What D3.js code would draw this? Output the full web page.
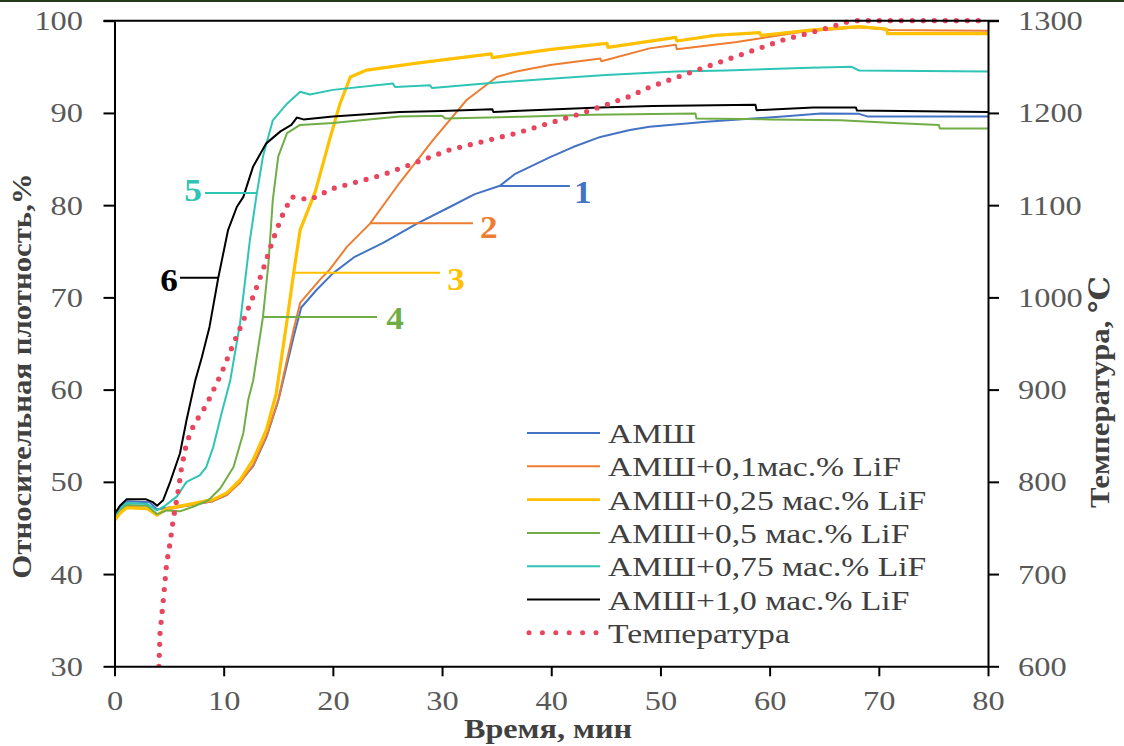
<!DOCTYPE html>
<html><head><meta charset="utf-8">
<script src="https://cdn.jsdelivr.net/npm/d3@7"></script>
<style>body{margin:0;background:#fff;} svg{display:block;}</style>
</head><body><svg id="c" width="1124" height="746"></svg>
<script>
// ---------- data ----------
const xTicks = [0, 10, 20, 30, 40, 50, 60, 70, 80];
const yTicks = [30, 40, 50, 60, 70, 80, 90, 100];
const tempTicks = [600, 700, 800, 900, 1000, 1100, 1200, 1300];
const legendLabels = ["АМШ", "АМШ+0,1мас.% LiF", "АМШ+0,25 мас.% LiF", "АМШ+0,5 мас.% LiF",
  "АМШ+0,75 мас.% LiF", "АМШ+1,0 мас.% LiF", "Температура"];
const seriesColors = ["#4472c4", "#ed7d31", "#ffc000", "#70ad47", "#2ec4b6", "#000000", "#e8455e"];
const curveNumbers = ["1", "2", "3", "4", "5", "6"];

// [time, min ; relative density, %]
const amsh = [[0,46.4],[0.5,47.3],[1.1,47.9],[3.2,47.8],[3.9,47.0],[4.8,47.2],[6.6,47.4],[9,47.9],[10.3,48.6],
  [11.5,50.0],[12.7,51.7],[13.9,54.8],[15.0,58.8],[16.4,65.7],[17.1,68.9],[18.5,70.8],[20.0,72.6],[22,74.4],
  [24.6,75.9],[27.7,78.0],[30.7,79.8],[33,81.2],[35.3,82.1],[36.7,83.4],[39.9,85.2],[42,86.3],[44.5,87.4],
  [47.2,88.15],[49.0,88.5],[54.2,89.05],[61.2,89.6],[64.7,89.95],[68.2,89.9],[69,89.6],[80,89.6]];
const lif01 = [[0,46.0],[0.5,46.8],[1.1,47.3],[3.0,47.2],[3.9,46.4],[4.8,47.0],[6.6,47.4],[9,47.9],[10.3,48.6],
  [11.5,49.9],[12.7,51.8],[13.9,54.9],[15.0,58.9],[16.4,66.5],[17.0,69.4],[18.8,71.9],[19.7,73.0],[21.3,75.5],
  [23.4,78.0],[26.1,82.4],[29.2,87.1],[32.25,91.4],[35.0,93.9],[36.8,94.5],[39.9,95.2],[44.5,95.9],[44.6,95.6],
  [49.0,97.0],[51.4,97.4],[51.5,96.9],[57.0,97.7],[63,98.8],[68.2,99.3],[71,99.0],[80,98.9]];
const lif025 = [[0,45.8],[0.5,46.6],[1.1,47.2],[3.0,47.1],[3.9,46.4],[4.8,47.1],[6.6,47.5],[9.05,48.1],[10.3,48.8],
  [11.5,50.2],[12.7,52.4],[13.9,55.6],[14.8,59.5],[15.8,67.5],[16.4,72.6],[17.0,77.3],[18.4,81.5],[19.7,87.1],
  [20.65,91.0],[21.6,93.9],[23.1,94.65],[27.7,95.4],[34.5,96.4],[34.6,96.0],[40,96.9],[45.1,97.55],[45.2,97.1],
  [51.4,98.2],[51.5,97.8],[55,98.4],[59.1,98.7],[59.2,98.4],[64,99.0],[68.2,99.35],[70.7,99.1],[70.8,98.6],[80,98.6]];
const lif05 = [[0,46.3],[0.5,47.0],[1.1,47.5],[3.0,47.4],[3.9,46.5],[4.8,46.9],[6.0,46.8],[7.2,47.3],[8.6,48.0],
  [9.7,49.3],[10.9,51.6],[11.8,55.3],[12.25,58.9],[12.7,61.0],[13.6,67.9],[14.1,73.7],[14.5,80.6],[15.0,85.3],
  [15.8,87.8],[17.0,88.7],[20,88.9],[26.1,89.6],[30,89.7],[30.3,89.4],[38,89.6],[43.7,89.8],[53.2,89.95],
  [53.3,89.4],[60,89.3],[66.5,89.2],[71.4,88.9],[75.5,88.7],[75.6,88.3],[80,88.3]];
const lif075 = [[0,46.3],[0.5,47.1],[1.1,47.7],[3.0,47.6],[3.9,46.9],[4.5,47.3],[5.7,48.4],[6.6,50.0],[7.8,50.7],
  [8.4,51.6],[9.05,53.8],[9.8,57.4],[10.6,61.0],[11.5,67.2],[12.4,76.2],[13.0,81.0],[13.6,85.3],[14.5,89.2],
  [15.8,91.0],[17.0,92.3],[17.9,92.0],[20,92.5],[25.5,93.2],[25.7,92.8],[28.9,93.0],[29.1,92.7],[35,93.3],
  [40.9,93.8],[45,94.1],[51.4,94.5],[56,94.6],[60,94.75],[63.7,94.9],[67.5,95.0],[68.2,94.6],[80,94.5]];
const lif10 = [[0,46.5],[0.5,47.4],[1.1,48.1],[2.9,48.1],[3.5,47.8],[3.9,47.4],[4.45,48.0],[5.1,50.0],[6.0,53.1],
  [6.6,56.7],[7.4,61.0],[8.0,63.5],[8.7,66.8],[9.5,72.1],[10.4,77.3],[11.2,79.8],[11.8,80.9],[12.7,84.2],
  [13.9,86.7],[15.2,88.0],[16.2,88.7],[16.7,89.5],[17.3,89.3],[20,89.6],[26.1,90.1],[30,90.2],[34.6,90.4],
  [34.7,90.1],[44.4,90.6],[49.3,90.75],[58.7,90.9],[58.8,90.3],[64.0,90.6],[67.9,90.6],[68.0,90.25],[80,90.1]];
// [time, min ; temperature, °C]
const temperature = [[4.07,600],[4.17,636],[4.47,672],[4.78,712],[5.08,733],[5.38,759],[5.84,791],[6.15,816],
  [6.6,842],[7.2,860],[7.8,872],[8.4,883],[9.8,918],[10.9,950],[11.8,975],[12.7,1001],[13.6,1030],[14.5,1062],
  [15.3,1087],[16.2,1109],[17.3,1107],[17.9,1106],[20,1118],[24.6,1133],[30.7,1160],[36.8,1178],[42.9,1200],
  [47.2,1218],[49,1228],[54.2,1250],[61.2,1279],[64.7,1290],[67.2,1299],[68,1300],[80,1300]];

// curve-number annotations: [lineStartT, lineEndT, lineV, labelT, labelV]
const annotations = [[35.3,41.7,82.08,42.9,81.43],[23.4,32.83,78.03,34.29,77.63],[16.35,29.81,72.68,31.27,71.99],
  [13.6,24.04,67.87,25.69,67.76],[8.29,13.05,81.32,7.19,81.65],[6.0,9.48,72.12,4.99,71.9]];

// ---------- drawing ----------
const W = 1124, H = 746;
const L = 114.5, R = 988, T = 20.7, B = 666.3;
const serif = '"Liberation Serif","Times New Roman","DejaVu Serif",serif';
const svg = d3.select('#c');
svg.append('rect').attr('x',0).attr('y',0).attr('width',W).attr('height',2).attr('fill','#22391a');

const x = d3.scaleLinear().domain([0,80]).range([L,R]);
const y = d3.scaleLinear().domain([30,100]).range([B,T]);
const yT = d3.scaleLinear().domain([600,1300]).range([B,T]);

svg.append('clipPath').attr('id','clip').append('rect')
  .attr('x',L).attr('y',T-3).attr('width',R-L).attr('height',B-T+3);

const densSeries = [amsh, lif01, lif025, lif05, lif075, lif10];
const widths = [2, 2, 3.2, 2, 2, 2];
const line = d3.line().x(d=>x(d[0])).y(d=>y(d[1]));
const g = svg.append('g').attr('clip-path','url(#clip)');
densSeries.forEach((s,i)=>{
  g.append('path').datum(s).attr('d',line).attr('fill','none')
    .attr('stroke',seriesColors[i]).attr('stroke-width',widths[i]).attr('stroke-linejoin','round');
});
const tline = d3.line().x(d=>x(d[0])).y(d=>yT(d[1]));
g.append('path').datum(temperature).attr('d',tline).attr('fill','none')
  .attr('stroke',seriesColors[6]).attr('stroke-width',5.2).attr('stroke-linecap','round')
  .attr('stroke-dasharray','0 11');

// axes
function styleAxis(sel){
  sel.selectAll('path,line').attr('stroke','#000').attr('stroke-width',2);
  sel.selectAll('text').attr('font-family',serif).attr('font-size',27).attr('fill','#595959');
}
const ax = svg.append('g').attr('transform',`translate(0,${B})`)
  .call(d3.axisBottom(x).tickValues(xTicks).tickFormat(d3.format('d')).tickSize(10).tickSizeOuter(0).tickPadding(0));
styleAxis(ax);
ax.selectAll('text').attr('y',null).attr('dy',null).attr('transform','translate(0,44) scale(1.2,1)');

const ay = svg.append('g').attr('transform',`translate(${L},0)`)
  .call(d3.axisLeft(y).tickValues(yTicks).tickFormat(d3.format('d')).tickSize(11).tickSizeOuter(0));
styleAxis(ay);
ay.selectAll('text').attr('x',null).attr('dy',null).attr('text-anchor','end')
  .attr('transform','translate(-31.5,9) scale(1.2,1)');

const ar = svg.append('g').attr('transform',`translate(${R},0)`)
  .call(d3.axisRight(yT).tickValues(tempTicks).tickFormat(d3.format('d')).tickSize(11).tickSizeOuter(0));
styleAxis(ar);
ar.selectAll('text').attr('x',null).attr('dy',null).attr('text-anchor','start')
  .attr('transform','translate(30,9) scale(1.2,1)');

svg.append('line').attr('x1',L-11).attr('x2',R+11).attr('y1',T).attr('y2',T)
  .attr('stroke','#000').attr('stroke-width',2);

// axis titles
svg.append('text').text('Время, мин').attr('font-family',serif).attr('font-weight','bold')
  .attr('font-size',28).attr('fill','#404040').attr('text-anchor','middle')
  .attr('transform','translate(548,738) scale(1.15,1)');
svg.append('text').text('Относительная плотность,%').attr('font-family',serif).attr('font-weight','bold')
  .attr('font-size',28).attr('fill','#404040').attr('text-anchor','middle')
  .attr('transform','translate(31,376) rotate(-90) scale(1.1,1)');
svg.append('text').text('Температура, ℃').attr('font-family',serif).attr('font-weight','bold')
  .attr('font-size',28).attr('fill','#404040').attr('text-anchor','middle')
  .attr('transform','translate(1109,392) rotate(-90) scale(1.1,1)');

// annotations
annotations.forEach((a,i)=>{
  svg.append('line').attr('x1',x(a[0])).attr('x2',x(a[1])).attr('y1',y(a[2])).attr('y2',y(a[2]))
    .attr('stroke',seriesColors[i]).attr('stroke-width',2);
  svg.append('text').text(curveNumbers[i]).attr('font-family',serif).attr('font-weight','bold')
    .attr('font-size',32).attr('fill',seriesColors[i]).attr('text-anchor','middle')
    .attr('transform',`translate(${x(a[3])},${y(a[4])+11}) scale(1.1,1)`);
});

// legend
const lg = svg.append('g');
legendLabels.forEach((lab,i)=>{
  const yy = 433 + i*33.3;
  if(i<6){
    lg.append('line').attr('x1',527).attr('x2',600).attr('y1',yy).attr('y2',yy)
      .attr('stroke',seriesColors[i]).attr('stroke-width',i===2?2.6:2);
  } else {
    lg.append('line').attr('x1',529).attr('x2',596).attr('y1',yy).attr('y2',yy)
      .attr('stroke',seriesColors[i]).attr('stroke-width',5).attr('stroke-linecap','round')
      .attr('stroke-dasharray','0 13.4');
  }
  lg.append('text').text(lab).attr('font-family',serif).attr('font-size',28).attr('fill','#404040')
    .attr('transform',`translate(608,${yy+10}) scale(1.2,1)`);
});
</script></body></html>
